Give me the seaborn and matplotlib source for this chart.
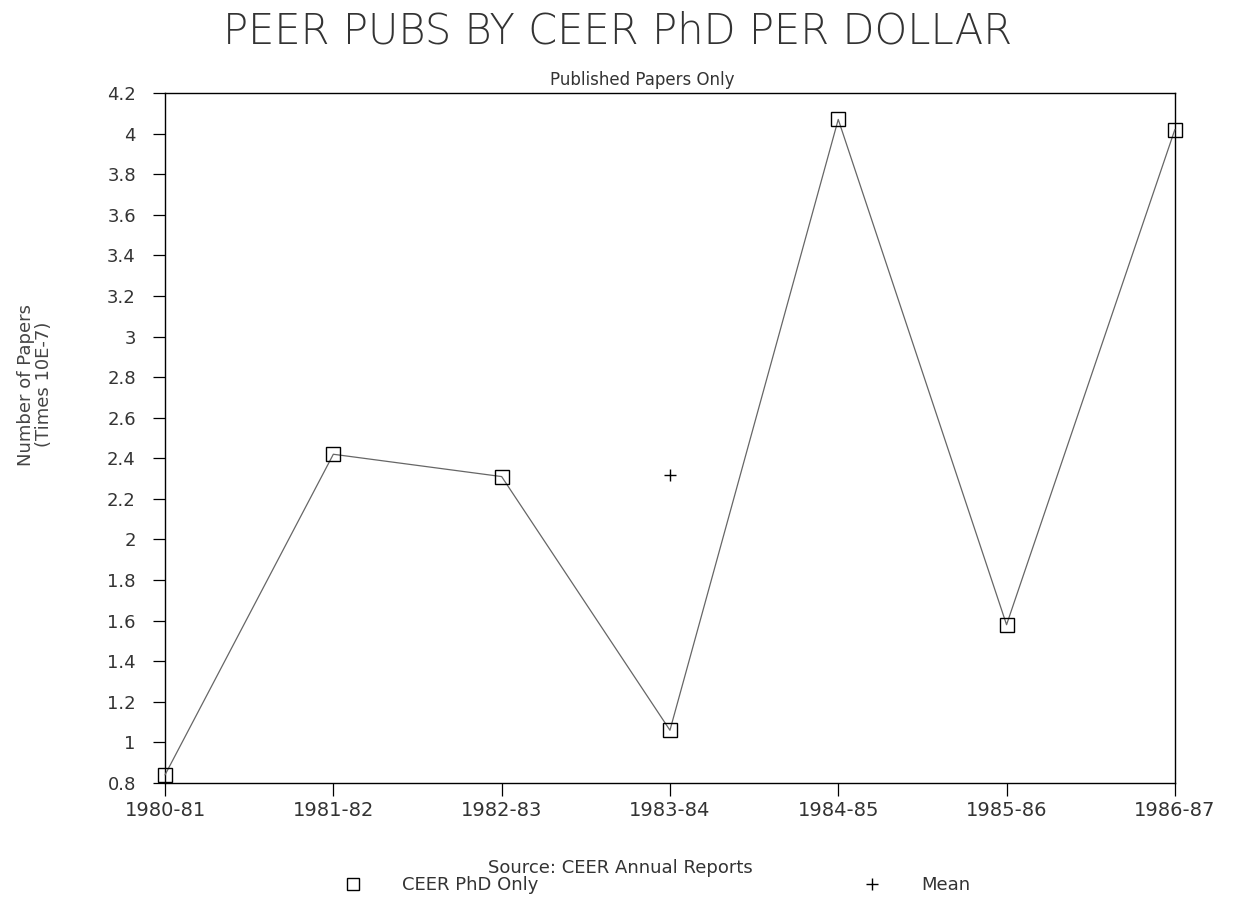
import numpy as np
import pandas as pd
import matplotlib.pyplot as plt
from matplotlib.lines import Line2D
import seaborn as sns

# values
years = ['1980-81', '1981-82', '1982-83', '1983-84', '1984-85', '1985-86', '1986-87']
phd_only = [0.84, 2.42, 2.31, 1.06, 4.07, 1.58, 4.02]
mean_year = ['1983-84']
mean_val = [2.32]

datos = pd.DataFrame({'year': years, 'papers': phd_only})
media = pd.DataFrame({'year': mean_year, 'papers': mean_val})

sns.set_theme(style='ticks')
plt.rcParams['font.family'] = ['DejaVu Sans']

fig = plt.figure(figsize=(12.38, 9.05), dpi=100)
ax = fig.add_axes([0.1333, 0.1348, 0.8157, 0.7624])

sns.lineplot(data=datos, x='year', y='papers', ax=ax, color='#666666', linewidth=0.9,
             marker='s', markersize=9.5, markerfacecolor='none', markeredgecolor='black',
             markeredgewidth=1.0, sort=False, clip_on=False, zorder=3)
sns.scatterplot(data=media, x='year', y='papers', ax=ax, marker='+', s=70,
                color='black', linewidth=1.0)

ax.set_xlim(0, len(years) - 1)
ax.set_ylim(0.8, 4.2)
ax.set_yticks(np.round(np.arange(0.8, 4.21, 0.2), 1))
ax.set_yticklabels(['%g' % t for t in ax.get_yticks()])
ax.set_xlabel('')
ax.set_ylabel('')

for s in ax.spines.values():
    s.set_color('black')
    s.set_linewidth(1.0)
ax.tick_params(axis='y', direction='out', length=9, width=0.9, pad=12,
               labelsize=13, colors='black', labelcolor='#333333')
ax.tick_params(axis='x', direction='out', length=9, width=0.9, pad=4,
               labelsize=14, colors='black', labelcolor='#333333')

fig.text(0.499, 0.966, 'PEER PUBS BY CEER PhD PER DOLLAR', ha='center', va='center',
         fontsize=30, fontweight='ultralight', color='#333333')
fig.text(0.519, 0.912, 'Published Papers Only', ha='center', va='center',
         fontsize=12, color='#333333')
fig.text(0.028, 0.575, 'Number of Papers\n(Times 10E-7)', ha='center', va='center',
         rotation=90, fontsize=13, color='#444444', linespacing=1.0)
fig.text(0.501, 0.041, 'Source: CEER Annual Reports', ha='center', va='center',
         fontsize=13, color='#333333')

handles = [Line2D([], [], linestyle='none', marker='s', markersize=8,
                  markerfacecolor='none', markeredgecolor='black'),
           Line2D([], [], linestyle='none', marker='+', markersize=8, color='black')]
fig.legend(handles, ['CEER PhD Only', 'Mean'], loc='center left',
           bbox_to_anchor=(0.272, 0.022), ncol=2, frameon=False, fontsize=13,
           handlelength=1.0, handletextpad=2.2, columnspacing=18,
           labelcolor='#333333', borderaxespad=0)

plt.savefig('out.png', dpi=100)
